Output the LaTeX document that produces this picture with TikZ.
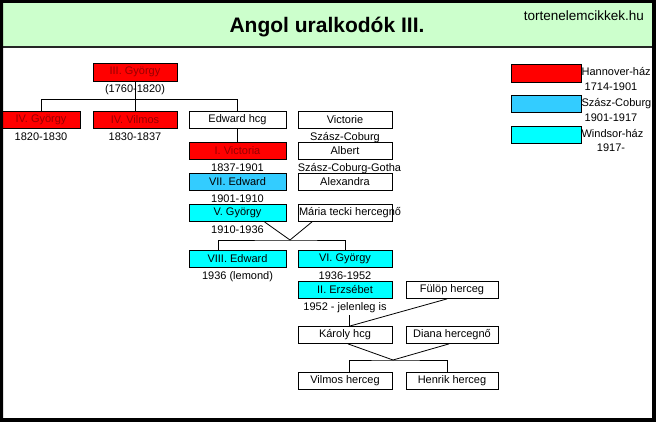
\documentclass[tikz,border=0pt]{standalone}
\usepackage{fontspec}
\setmainfont{Liberation Sans}
\usetikzlibrary{positioning, calc}
\definecolor{hannover}{RGB}{255, 0, 0}
\definecolor{coburg}{RGB}{51, 204, 255}
\definecolor{windsor}{RGB}{0, 255, 255}
\definecolor{headgreen}{RGB}{204, 255, 204}
\definecolor{redtext}{RGB}{150, 0, 0}

\begin{document}
\begin{tikzpicture}[x=1pt, y=-1pt,
        person/.style={rectangle, draw, line width=0.8pt, fill=white,
                       minimum width=97pt, minimum height=17pt, inner sep=0pt,
                       font=\fontsize{11}{13}\selectfont},
        narrow/.style={person, minimum width=94pt},
        house/.style={person, text=redtext, fill=hannover},
        date/.style={inner sep=0pt, text height=8pt, text depth=2pt,
                     font=\fontsize{11}{13}\selectfont},
        swatch/.style={rectangle, draw, line width=0.8pt, minimum width=70pt,
                       minimum height=17pt, inner sep=0pt},
        link/.style={line width=0.8pt},
    ]
        \useasboundingbox (0,0) rectangle (656,422);
        \fill[white] (0,0) rectangle (656,422);
        \fill[headgreen] (3,3) rectangle (652,47);
        \draw[line width=2pt, black!85] (3,47.5) -- (652,47.5);

        \node[font=\fontsize{21}{25}\selectfont\bfseries, anchor=base, inner sep=0pt] (title) at (327,33) {Angol uralkodók III.};
        \node[font=\fontsize{13.5}{16}\selectfont, anchor=base east, inner sep=0pt] (site) at (644,21) {tortenelemcikkek.hu};

        \node[house, minimum width=84pt, minimum height=18pt] (gy3) at (135,72) {III. György};
        \node[date, below=3pt of gy3] (gy3d) {(1760-1820)};

        \node[house, minimum width=78pt] (gy4) at (41,120) {IV. György};
        \node[date, below=3pt of gy4] (gy4d) {1820-1830};
        \node[house, minimum width=84pt] (vil4) at (135,120) {IV. Vilmos};
        \node[date, below=3pt of vil4] (vil4d) {1830-1837};
        \node[person] (edw) at (237.5,120) {Edward hcg};
        \node[narrow] (victorie) at (345,120) {Victorie};
        \node[date, below=3pt of victorie] (victoried) {Szász-Coburg};

        \node[house] (vic1) at (237.5,151) {I. Victoria};
        \node[date, below=3pt of vic1] (vic1d) {1837-1901};
        \node[narrow] (albert) at (345,151) {Albert};
        \node[date, anchor=north west] (albertd) at ([yshift=-3pt]albert.south west) {Szász-Coburg-Gotha};

        \node[person, fill=coburg] (edw7) at (237.5,182) {VII. Edward};
        \node[date, below=3pt of edw7] (edw7d) {1901-1910};
        \node[narrow] (alex) at (345,182) {Alexandra};

        \node[person, fill=windsor] (gy5) at (237.5,213) {V. György};
        \node[date, below=3pt of gy5] (gy5d) {1910-1936};
        \node[narrow] (maria) at (345,213) {\makebox[92pt][l]{Mária tecki hercegnő}};

        \node[person, fill=windsor] (edw8) at (237.5,259) {VIII. Edward};
        \node[date, below=3pt of edw8] (edw8d) {1936 (lemond)};
        \node[narrow, fill=windsor] (gy6) at (345,259) {VI. György};
        \node[date, below=3pt of gy6] (gy6d) {1936-1952};

        \node[narrow, fill=windsor] (erz2) at (345,290) {II. Erzsébet};
        \node[date, below=3pt of erz2] (erz2d) {1952 - jelenleg is};
        \node[person, minimum width=92pt] (fulop) at (452,290) {Fülöp herceg};

        \node[narrow] (karoly) at (345,335) {Károly hcg};
        \node[person, minimum width=92pt] (diana) at (452,335) {Diana hercegnő};

        \node[narrow] (vilmos) at (345,381) {Vilmos herceg};
        \node[person, minimum width=92pt] (henrik) at (452,381) {Henrik herceg};

        \draw[link] (gy3) -- (vil4);
        \draw[link] (gy4.north) -- ++(0,-12) -| (edw.north);
        \draw[link] (edw) -- (vic1);

        \coordinate (j1) at (290,240);
        \draw[link] ([xshift=27pt]gy5.south) -- (j1);
        \draw[link] ([xshift=-33pt]maria.south) -- (j1);
        \draw[link] ([xshift=-19pt]edw8.north) |- (j1) -| (gy6.north);

        \coordinate (j2) at (350,326);
        \draw[link] ([xshift=4pt,yshift=-3pt]erz2d.south) -- ([xshift=4pt]karoly.north);
        \draw[link] ([xshift=-5pt]fulop.south) -- (j2);

        \coordinate (j3) at (393,360);
        \draw[link] ([xshift=3pt]karoly.south) -- (j3);
        \draw[link] ([xshift=-3pt]diana.south) -- (j3);
        \draw[link] ([xshift=4pt]vilmos.north) |- (j3) -| ([xshift=-5pt]henrik.north);

        \node[swatch, fill=hannover, minimum height=18pt] (hann) at (546,73) {};
        \node[date, right=0pt of hann] (hannl) {Hannover-ház};
        \node[date] (hannd) at (611,88) {1714-1901};
        \node[swatch, fill=coburg] (cob) at (546,104) {};
        \node[date, right=0pt of cob] (cobl) {Szász-Coburg};
        \node[date] (cobd) at (611,119) {1901-1917};
        \node[swatch, fill=windsor] (wind) at (546,135) {};
        \node[date, right=0pt of wind] (windl) {Windsor-ház};
        \node[date] (windd) at (611,149) {1917-};

        \fill[black, even odd rule] (0,0) rectangle (656,422) (3,3) rectangle (652,418);
    \end{tikzpicture}
\end{document}
